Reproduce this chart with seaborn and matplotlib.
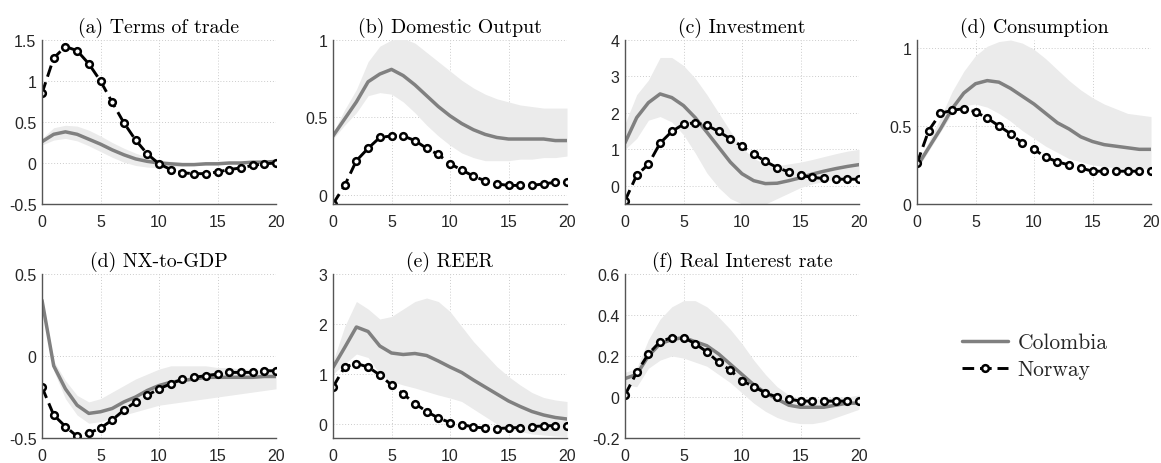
import numpy as np
import pandas as pd
import matplotlib
matplotlib.use("Agg")
import matplotlib.pyplot as plt
from matplotlib.ticker import FuncFormatter
import seaborn as sns

horizon = list(range(21))

titles = ["(a) Terms of trade", "(b) Domestic Output", "(c) Investment", "(d) Consumption",
          "(d) NX-to-GDP", "(e) REER", "(f) Real Interest rate"]

# Terms of trade
tot_nor = [0.85, 1.28, 1.42, 1.37, 1.21, 1.00, 0.74, 0.49, 0.28, 0.11, -0.01, -0.08, -0.12, -0.13, -0.13, -0.11, -0.08, -0.06, -0.03, -0.01, 0.00]
tot_col = [0.26, 0.35, 0.38, 0.35, 0.29, 0.23, 0.16, 0.10, 0.05, 0.02, 0.00, -0.01, -0.02, -0.02, -0.01, -0.01, 0.00, 0.00, 0.01, 0.01, 0.02]
tot_hi = [0.30, 0.43, 0.46, 0.45, 0.40, 0.33, 0.25, 0.18, 0.12, 0.07, 0.04, 0.02, 0.01, 0.01, 0.01, 0.02, 0.02, 0.02, 0.03, 0.03, 0.03]
tot_lo = [0.22, 0.28, 0.30, 0.27, 0.21, 0.14, 0.07, 0.01, -0.03, -0.05, -0.06, -0.05, -0.04, -0.03, -0.03, -0.02, -0.01, -0.01, 0.00, 0.00, 0.01]

# Domestic output
out_nor = [-0.06, 0.06, 0.22, 0.30, 0.37, 0.38, 0.38, 0.35, 0.30, 0.26, 0.20, 0.16, 0.12, 0.09, 0.07, 0.06, 0.06, 0.06, 0.07, 0.08, 0.08]
out_col = [0.38, 0.49, 0.60, 0.73, 0.78, 0.81, 0.77, 0.71, 0.64, 0.57, 0.51, 0.46, 0.42, 0.39, 0.37, 0.36, 0.36, 0.36, 0.36, 0.35, 0.35]
out_hi = [0.40, 0.55, 0.68, 0.86, 0.96, 1.00, 1.01, 0.98, 0.92, 0.86, 0.80, 0.74, 0.69, 0.65, 0.62, 0.60, 0.58, 0.57, 0.56, 0.56, 0.56]
out_lo = [0.36, 0.45, 0.53, 0.64, 0.66, 0.65, 0.60, 0.53, 0.45, 0.38, 0.32, 0.27, 0.24, 0.22, 0.22, 0.22, 0.23, 0.23, 0.24, 0.24, 0.25]

# Investment
inv_nor = [-0.41, 0.29, 0.59, 1.17, 1.49, 1.69, 1.73, 1.66, 1.49, 1.29, 1.08, 0.87, 0.67, 0.50, 0.38, 0.29, 0.23, 0.20, 0.18, 0.18, 0.18]
inv_col = [1.18, 1.87, 2.28, 2.52, 2.42, 2.20, 1.87, 1.47, 1.06, 0.65, 0.33, 0.14, 0.06, 0.07, 0.14, 0.22, 0.32, 0.40, 0.47, 0.53, 0.58]
inv_hi = [1.70, 2.50, 2.90, 3.52, 3.52, 3.30, 2.95, 2.50, 2.00, 1.50, 1.05, 0.75, 0.60, 0.55, 0.60, 0.65, 0.72, 0.80, 0.88, 0.95, 1.00]
inv_lo = [1.00, 1.30, 1.80, 1.90, 1.75, 1.40, 0.90, 0.35, -0.05, -0.35, -0.50, -0.55, -0.50, -0.35, -0.20, -0.05, 0.05, 0.12, 0.18, 0.22, 0.25]

# Consumption
con_nor = [0.26, 0.47, 0.58, 0.60, 0.61, 0.59, 0.55, 0.50, 0.45, 0.39, 0.35, 0.30, 0.27, 0.25, 0.23, 0.21, 0.21, 0.21, 0.21, 0.21, 0.21]
con_col = [0.24, 0.36, 0.48, 0.61, 0.71, 0.77, 0.79, 0.78, 0.74, 0.69, 0.64, 0.58, 0.52, 0.48, 0.43, 0.40, 0.38, 0.37, 0.36, 0.35, 0.35]
con_hi = [0.26, 0.40, 0.55, 0.72, 0.85, 0.95, 1.01, 1.04, 1.05, 1.03, 0.99, 0.93, 0.86, 0.79, 0.73, 0.68, 0.64, 0.61, 0.58, 0.57, 0.56]
con_lo = [0.22, 0.34, 0.46, 0.58, 0.63, 0.64, 0.62, 0.58, 0.53, 0.47, 0.42, 0.37, 0.33, 0.29, 0.27, 0.25, 0.24, 0.23, 0.23, 0.23, 0.22]

# NX-to-GDP
nx_nor = [-0.19, -0.36, -0.43, -0.49, -0.47, -0.44, -0.39, -0.33, -0.28, -0.24, -0.20, -0.17, -0.14, -0.13, -0.12, -0.11, -0.10, -0.10, -0.10, -0.09, -0.09]
nx_col = [0.34, -0.06, -0.20, -0.30, -0.35, -0.34, -0.32, -0.28, -0.25, -0.21, -0.18, -0.16, -0.15, -0.14, -0.13, -0.13, -0.13, -0.13, -0.13, -0.125, -0.125]
nx_hi = [0.36, -0.03, -0.15, -0.24, -0.28, -0.26, -0.22, -0.18, -0.14, -0.11, -0.08, -0.06, -0.06, -0.06, -0.06, -0.07, -0.07, -0.08, -0.08, -0.09, -0.09]
nx_lo = [0.32, -0.09, -0.26, -0.36, -0.41, -0.40, -0.38, -0.36, -0.34, -0.32, -0.30, -0.29, -0.28, -0.27, -0.26, -0.25, -0.24, -0.23, -0.22, -0.21, -0.20]

# REER
reer_nor = [0.74, 1.14, 1.21, 1.14, 0.98, 0.78, 0.60, 0.41, 0.25, 0.12, 0.03, -0.01, -0.06, -0.08, -0.09, -0.08, -0.07, -0.05, -0.04, -0.03, -0.03]
reer_col = [1.13, 1.53, 1.94, 1.85, 1.56, 1.42, 1.39, 1.41, 1.37, 1.26, 1.14, 1.03, 0.88, 0.74, 0.60, 0.46, 0.35, 0.25, 0.18, 0.13, 0.10]
reer_hi = [1.25, 1.95, 2.45, 2.30, 2.10, 2.15, 2.30, 2.45, 2.52, 2.45, 2.25, 1.95, 1.65, 1.40, 1.15, 0.95, 0.78, 0.63, 0.53, 0.48, 0.45]
reer_lo = [1.00, 1.20, 1.40, 1.33, 1.00, 0.85, 0.78, 0.72, 0.65, 0.58, 0.52, 0.45, 0.30, 0.15, 0.00, -0.10, -0.15, -0.20, -0.22, -0.24, -0.25]

# Real interest rate
rir_nor = [0.01, 0.12, 0.21, 0.27, 0.29, 0.29, 0.26, 0.22, 0.17, 0.13, 0.08, 0.05, 0.02, 0.00, -0.01, -0.02, -0.02, -0.02, -0.02, -0.02, -0.02]
rir_col = [0.09, 0.11, 0.20, 0.26, 0.28, 0.29, 0.27, 0.25, 0.21, 0.16, 0.11, 0.06, 0.02, -0.01, -0.04, -0.05, -0.05, -0.05, -0.04, -0.03, -0.03]
rir_hi = [0.12, 0.14, 0.28, 0.38, 0.44, 0.47, 0.47, 0.44, 0.39, 0.33, 0.26, 0.18, 0.11, 0.05, 0.01, -0.01, -0.01, -0.01, 0.00, 0.00, 0.01]
rir_lo = [0.06, 0.05, 0.14, 0.18, 0.20, 0.19, 0.17, 0.15, 0.11, 0.07, 0.02, -0.03, -0.07, -0.10, -0.12, -0.13, -0.13, -0.12, -0.10, -0.08, -0.06]

panels = [
    (tot_col, tot_lo, tot_hi, tot_nor, (-0.5, 1.5), [-0.5, 0, 0.5, 1, 1.5]),
    (out_col, out_lo, out_hi, out_nor, (-0.06, 1.0), [0, 0.5, 1]),
    (inv_col, inv_lo, inv_hi, inv_nor, (-0.5, 4.0), [0, 1, 2, 3, 4]),
    (con_col, con_lo, con_hi, con_nor, (0, 1.05), [0, 0.5, 1]),
    (nx_col, nx_lo, nx_hi, nx_nor, (-0.5, 0.5), [-0.5, 0, 0.5]),
    (reer_col, reer_lo, reer_hi, reer_nor, (-0.28, 3.0), [0, 1, 2, 3]),
    (rir_col, rir_lo, rir_hi, rir_nor, (-0.2, 0.6), [-0.2, 0, 0.2, 0.4, 0.6]),
]

sns.set_theme(style="white")
plt.rcParams['font.family'] = ['Liberation Sans', 'DejaVu Sans']
plt.rcParams['axes.unicode_minus'] = False

W, H = 1161, 464
fig = plt.figure(figsize=(W / 100, H / 100), dpi=100)

lefts = [42, 333, 625, 917]
row_tops = [41, 275]
row_bots = [205, 439]
width = 234

fmt = FuncFormatter(lambda v, p: ('%g' % v))

handles = None
for i, (col, lo, hi, nor, ylim, yt) in enumerate(panels):
    r, c = divmod(i, 4)
    top, bot = row_tops[r], row_bots[r]
    ax = fig.add_axes([lefts[c] / W, 1 - bot / H, width / W, (bot - top) / H])
    df = pd.DataFrame({"h": horizon, "col": col, "lo": lo, "hi": hi, "nor": nor})
    ax.fill_between(df["h"], df["lo"], df["hi"], color="#ebebeb", lw=0, zorder=1)
    sns.lineplot(data=df, x="h", y="col", ax=ax, color="#808080", lw=2.5,
                 label="Colombia", zorder=3)
    sns.lineplot(data=df, x="h", y="nor", ax=ax, color="black", lw=2.1,
                 linestyle=(0, (4.0, 2.0)), marker="o", markersize=4.8,
                 markerfacecolor="white", markeredgecolor="black", markeredgewidth=1.8,
                 label="Norway", zorder=4)
    ax.set_xlim(0, 20)
    ax.set_ylim(*ylim)
    ax.set_xticks([0, 5, 10, 15, 20])
    ax.set_yticks(yt)
    ax.yaxis.set_major_formatter(fmt)
    ax.set_xlabel("")
    ax.set_ylabel("")
    ax.grid(True, linestyle=(0, (1, 2)), color="#cccccc", lw=0.7)
    ax.set_axisbelow(True)
    for s in ["top", "right"]:
        ax.spines[s].set_visible(False)
    for s in ["left", "bottom"]:
        ax.spines[s].set_color("#555555")
        ax.spines[s].set_linewidth(1.0)
        ax.spines[s].set_zorder(5)
    ax.tick_params(axis="both", direction="in", length=3, width=0.8, color="#555555",
                   labelsize=11.5, labelcolor="#262626", pad=4)
    ax.tick_params(axis="x", pad=7)
    ax.set_title(titles[i], fontfamily="cmr10", fontsize=14.3, pad=6, color="black")
    if handles is None:
        handles, labels = ax.get_legend_handles_labels()
    ax.get_legend().remove()

leg = fig.legend(handles, labels, loc="center left",
                 bbox_to_anchor=(943 / W, 1 - 357 / H), frameon=False,
                 prop={"family": "cmr10", "size": 15.5}, handlelength=2.1,
                 handletextpad=0.45, labelspacing=0.35, numpoints=1)

fig.savefig("out.png", dpi=100)
